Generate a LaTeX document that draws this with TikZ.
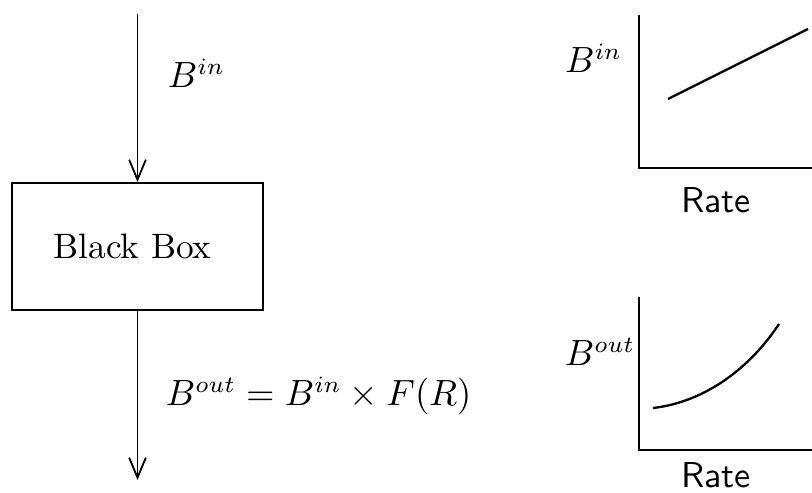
\documentclass[tikz,border=0pt]{standalone}
\usetikzlibrary{arrows.meta,positioning,calc}
\tikzset{
  every picture/.style={line width=0.55pt, font=\fontsize{10.6}{12.7}\selectfont},
  blackbox/.style={draw, minimum width=75.3pt, minimum height=38.1pt, inner sep=0pt},
  flow/.style={-{Straight Barb[length=6pt,width=5pt]}},
  axislabel/.style={font=\fontsize{10.8}{13}\selectfont\sffamily},
  curve/.style={line width=0.7pt},
}
\begin{document}
\begin{tikzpicture}[x=0.3pt, y=-0.3pt]
\useasboundingbox (0,0) rectangle (812,492);
% left: the box with its input and output
\node[blackbox] (box) at (137.5,246.5) {\hspace{-3pt}Black Box};
\coordinate (top) at (137.5,14);
\coordinate (bottom) at (137.5,480);
\draw[flow] (top) -- (top |- box.north);
\draw[flow] (bottom |- box.south) -- (bottom);
\node[anchor=west, inner sep=0pt] (bin) at (167,73) {$B^{in}$};
\node[anchor=west, inner sep=0pt] (rel) at (165,396) {$B^{out} = B^{in} \times F(R)$};
% right, top: input against rate
\coordinate (o1) at (639,168);
\coordinate (y1) at (639,15);
\coordinate (x1) at (812,168);
\draw (y1) -- (o1) -- (x1);
\draw[curve] (668,99) -- (808,29);
\node[anchor=east, inner sep=0pt] (lin) at (623,58) {$B^{in}$};
\node[axislabel] (rate1) at (716,200) {Rate};
% right, bottom: output against rate
\coordinate (o2) at (639,450);
\coordinate (y2) at (639,297);
\coordinate (x2) at (812,450);
\draw (y2) -- (o2) -- (x2);
\draw[curve] (653,408) .. controls (705,402) and (750,368) .. (779,324);
\node[anchor=east, inner sep=0pt] (lout) at (636,352) {$B^{out}$};
\node[axislabel] (rate2) at (716,475) {Rate};
\end{tikzpicture}
\end{document}
